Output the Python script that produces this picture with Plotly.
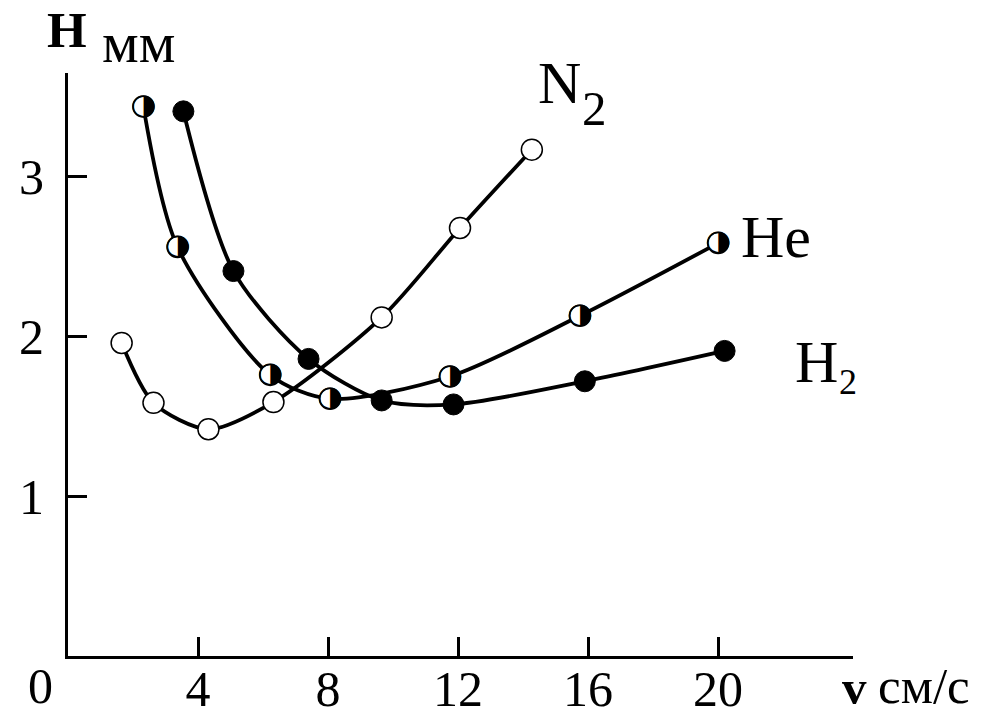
import plotly.graph_objects as go

# ---- data ----
n2_x = [1.65, 2.63, 4.32, 6.32, 9.65, 12.06, 14.27]
n2_y = [1.96, 1.585, 1.42, 1.59, 2.12, 2.68, 3.17]
he_x = [2.32, 3.37, 6.22, 8.06, 11.75, 15.75, 20.0]
he_y = [3.44, 2.56, 1.76, 1.61, 1.75, 2.13, 2.585]
h2_x = [3.55, 5.09, 7.40, 9.65, 11.86, 15.90, 20.20]
h2_y = [3.41, 2.41, 1.86, 1.60, 1.575, 1.72, 1.91]

x_ticks = [4, 8, 12, 16, 20]
y_ticks = [1, 2, 3]

SERIF = "Liberation Serif"

# plot-area geometry in pixels (used only to place text labels)
W, H = 986, 716
L, R, T, B = 68, 133, 73, 60
PW, PH = W - L - R, H - T - B

def px(x):
    return (x - L) / PW

def py(y):
    return (H - B - y) / PH

fig = go.Figure()

LW = 3.8
MS = 21

fig.add_trace(go.Scatter(
    x=n2_x, y=n2_y, mode="lines+markers",
    line=dict(color="black", width=LW, shape="spline", smoothing=0.8),
    marker=dict(symbol="circle", size=MS, color="white", line=dict(color="black", width=1.5)),
    showlegend=False, hoverinfo="skip"))

fig.add_trace(go.Scatter(
    x=he_x, y=he_y, mode="lines+markers",
    line=dict(color="black", width=LW, shape="spline", smoothing=0.8),
    marker=dict(symbol="circle", size=MS, color="white", line=dict(color="black", width=1.5)),
    showlegend=False, hoverinfo="skip"))

fig.add_trace(go.Scatter(
    x=he_x, y=he_y, mode="text", text=["\u25D1"] * len(he_x),
    textposition="middle center",
    textfont=dict(family="DejaVu Sans", size=29, color="black"),
    showlegend=False, hoverinfo="skip"))

fig.add_trace(go.Scatter(
    x=h2_x, y=h2_y, mode="lines+markers",
    line=dict(color="black", width=LW, shape="spline", smoothing=0.8),
    marker=dict(symbol="circle", size=MS, color="black", line=dict(color="black", width=1)),
    showlegend=False, hoverinfo="skip"))

ann = []
def label(text, x, y, size, bold=False, xanchor="left", yanchor="middle"):
    t = f"<b>{text}</b>" if bold else text
    ann.append(dict(text=t, x=px(x), y=py(y), xref="paper", yref="paper",
                    xanchor=xanchor, yanchor=yanchor, showarrow=False,
                    font=dict(family=SERIF, size=size, color="black")))

# series labels
label("N", 536, 83, 60)
label("2", 580, 108, 49)
label("He", 739, 237, 60)
label("H", 793, 362, 60)
label("2", 837, 382, 36)
# axis titles
label("H", 45, 30, 51, bold=True)
label("мм", 100, 42, 58)
label("v", 840, 687, 49, bold=True)
label("см/с", 876, 686, 51)
# origin label
label("0", 40, 686, 50, xanchor="center")

fig.update_layout(
    width=W, height=H,
    margin=dict(l=L, r=R, t=T, b=B, autoexpand=False),
    paper_bgcolor="white", plot_bgcolor="white",
    annotations=ann,
    xaxis=dict(range=[0, 24.15], tickvals=x_ticks, ticktext=[str(v) for v in x_ticks],
               showline=True, linewidth=3, linecolor="black",
               ticks="inside", ticklen=19, tickwidth=3, tickcolor="black",
               showgrid=False, zeroline=False, ticklabelstandoff=-13,
               tickfont=dict(family=SERIF, size=50, color="black")),
    yaxis=dict(range=[0, 3.65], tickvals=y_ticks, ticktext=[str(v) for v in y_ticks],
               showline=True, linewidth=3, linecolor="black",
               ticks="inside", ticklen=19, tickwidth=3, tickcolor="black",
               showgrid=False, zeroline=False, ticklabelstandoff=11,
               tickfont=dict(family=SERIF, size=50, color="black")),
)

fig.write_html("out.html", config={"displayModeBar": False},
               post_script="document.body.style.margin='0';document.body.style.overflow='hidden';")
